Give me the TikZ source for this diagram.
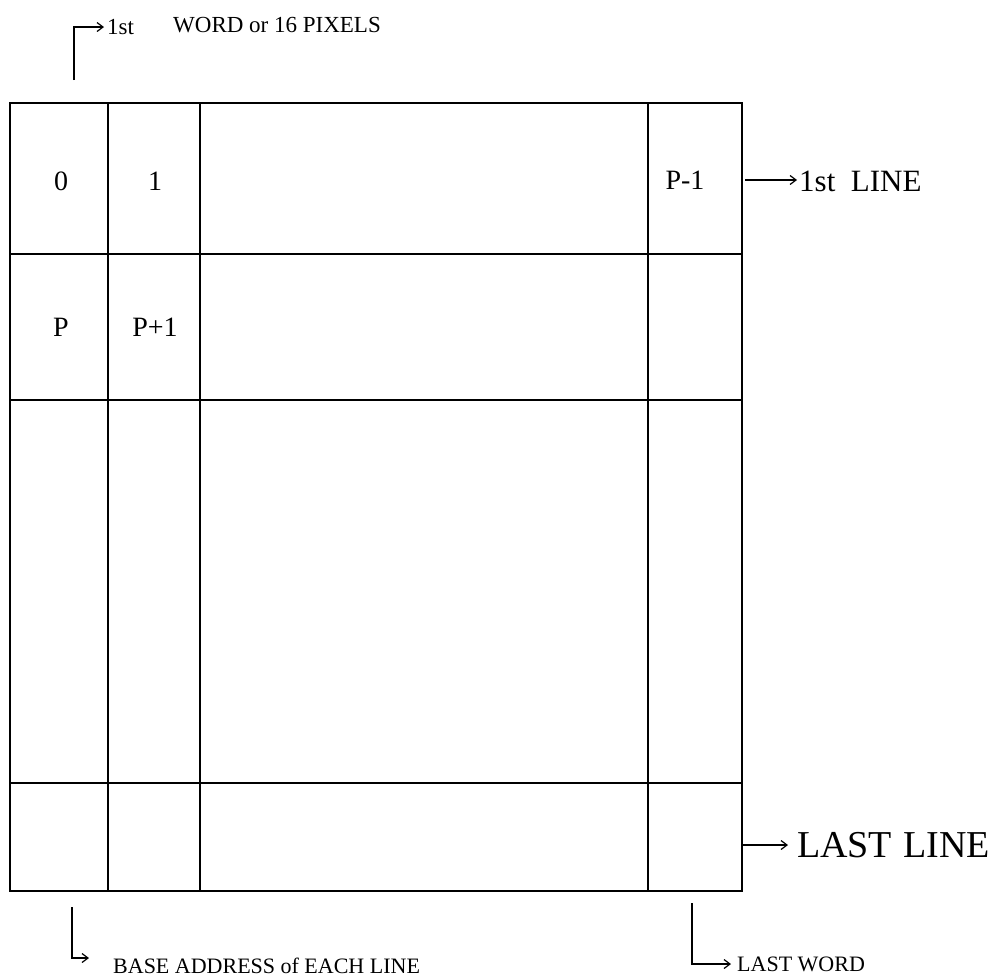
\documentclass[tikz,border=0pt]{standalone}
\usepackage{fontspec}
\setmainfont{Liberation Serif}
\usetikzlibrary{arrows.meta}
\tikzset{
  gridline/.style={line width=2.2pt, line cap=rect},
  conn/.style={line width=1.3pt, -{Straight Barb[length=6pt,width=9pt,line width=1.2pt]}},
  celltxt/.style={inner sep=0pt, font=\fontsize{28}{30}\selectfont},
  lbl/.style={inner sep=0pt, anchor=west, font=\fontsize{22}{24}\selectfont},
  biglbl/.style={inner sep=0pt, anchor=west}
}
\begin{document}
\begin{tikzpicture}[x=1pt,y=-1pt]
\useasboundingbox (0,0) rectangle (1003,978);
% grid
\draw[gridline] (10,103) rectangle (742,891);
\foreach \xx in {108,200,648} \draw[gridline] (\xx,103) -- (\xx,891);
\foreach \yy in {254,400,783} \draw[gridline] (10,\yy) -- (742,\yy);
% cell labels
\node[celltxt] (c0) at (61,181) {0};
\node[celltxt] (c1) at (155,181) {1};
\node[celltxt] (cp1) at (685,180) {P-1};
\node[celltxt] (cp) at (61,327) {P};
\node[celltxt] (cpp) at (155,327) {P+1};
% top label
\node[lbl, font=\fontsize{23}{26}\selectfont] (first) at (107,27) {1st};
\node[lbl, font=\fontsize{23}{26}\selectfont] (word) at (173,25) {WORD or 16 PIXELS};
\coordinate (t0) at (74,80);
\draw[conn] (t0) |- ([xshift=-3pt]first.west);
% right labels
\coordinate (r1) at (745,180);
\node[biglbl, font=\fontsize{31}{34}\selectfont] (line1) at (799,181) {1st\hspace{0.5em}LINE};
\draw[conn] (r1) -- ([xshift=-2pt]line1.west |- r1);
\coordinate (r2) at (743,845);
\node[biglbl, font=\fontsize{38}{42}\selectfont] (lastline) at (797,845) {LAST\hspace{0.3em}LINE};
\draw[conn] (r2) -- ([xshift=-9pt]lastline.west |- r2);
% bottom labels
\coordinate (b0) at (72,907);
\node[lbl] (base) at (113,966) {BASE ADDRESS of EACH LINE};
\draw[conn] (b0) |- ([xshift=-24pt]base.west |- 0,958);
\coordinate (b1) at (692,903);
\node[lbl] (lastword) at (737,964) {LAST WORD};
\draw[conn] (b1) |- ([xshift=-6pt]lastword.west |- 0,964);
\end{tikzpicture}
\end{document}
